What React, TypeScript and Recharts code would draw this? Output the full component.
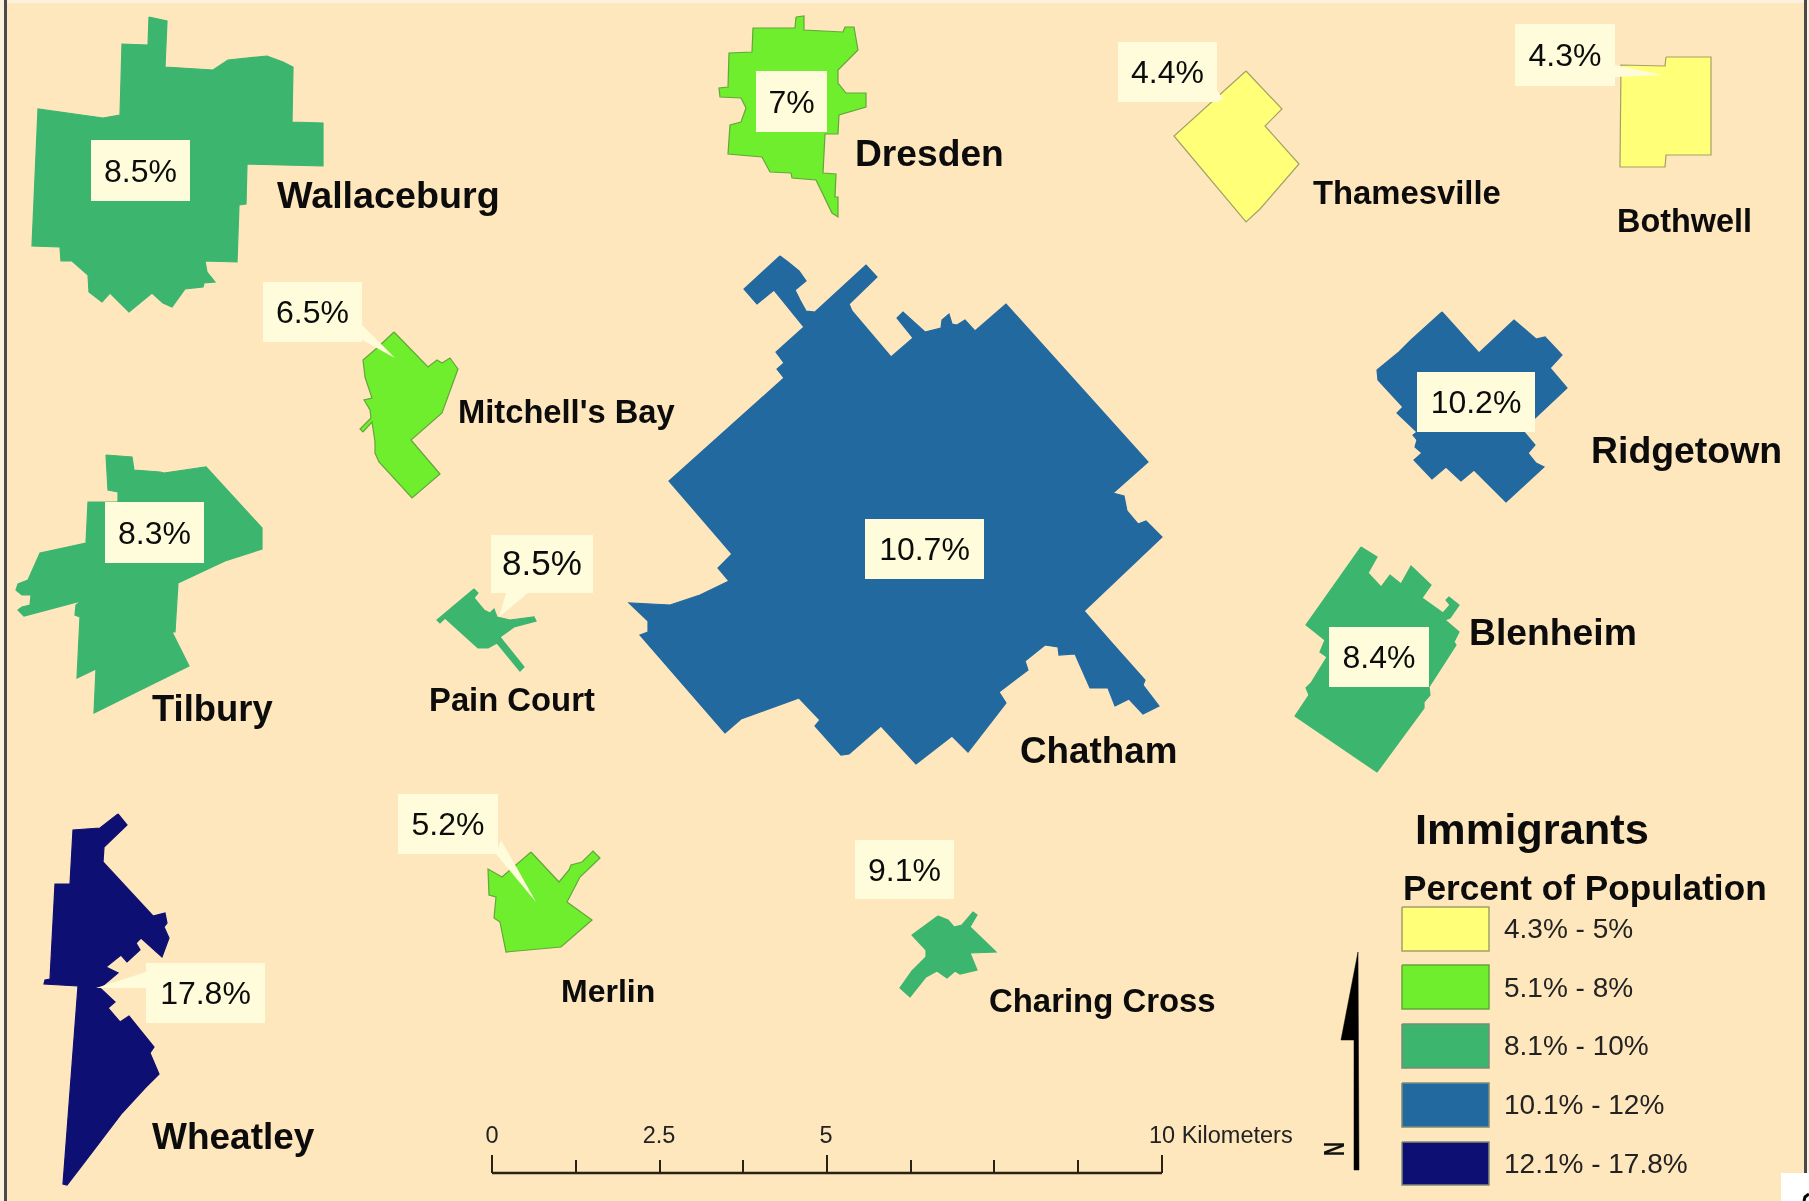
import { ScatterChart, Scatter, XAxis, YAxis } from "recharts";

type Pt = [number, number];

// town outlines, in map units
const wallaceburg: Pt[] = [[149,17],[167,21],[165,67],[213,70],[228,60],[267,56],[283,62],[293,67],[292,122],[323,123],[323,166],[247,164],[246,204],[239,205],[237,262],[205,261],[207,272],[215,282],[204,283],[203,287],[185,289],[172,307],[163,303],[152,293],[129,312],[110,293],[102,302],[89,292],[88,275],[72,261],[61,261],[60,247],[32,246],[38,109],[103,118],[120,115],[122,44],[148,45]];
const mitchellsBay: Pt[] = [[394,332],[428,367],[437,360],[442,363],[450,358],[458,369],[442,413],[411,440],[440,474],[412,498],[379,462],[375,453],[375,442],[372,422],[363,432],[360,429],[371,418],[370,410],[364,400],[372,398],[365,377],[363,360],[377,348]];
const tilbury: Pt[] = [[106,455],[132,457],[134,470],[160,472],[164,473],[206,467],[262,528],[262,549],[225,561],[178,583],[175,632],[172,632],[189,666],[94,713],[96,669],[77,678],[80,617],[75,615],[76,605],[81,601],[24,616],[18,610],[22,607],[30,605],[31,595],[22,595],[16,590],[18,584],[28,580],[40,553],[86,543],[88,502],[118,502],[118,492],[108,490]];
const painCourt: Pt[] = [[474,589],[478,593],[474,598],[484,610],[490,613],[494,609],[497,617],[510,620],[534,617],[536,621],[514,627],[500,637],[524,667],[520,671],[497,643],[488,648],[478,648],[445,618],[440,623],[437,620]];
const wheatley: Pt[] = [[118,814],[127,825],[104,847],[103,862],[153,916],[165,913],[167,923],[164,927],[169,938],[162,957],[141,938],[136,943],[140,950],[127,962],[121,955],[106,967],[118,973],[100,988],[115,1002],[108,1008],[120,1022],[129,1016],[154,1047],[150,1053],[159,1074],[145,1088],[122,1113],[84,1163],[67,1185],[63,1184],[78,986],[44,984],[45,980],[50,979],[55,884],[70,884],[73,830],[100,828]];
const merlin: Pt[] = [[531,852],[559,882],[569,870],[571,865],[582,862],[593,851],[600,858],[580,877],[567,902],[592,920],[561,947],[506,952],[500,922],[494,918],[496,897],[489,895],[488,869],[502,877]];
const charingCross: Pt[] = [[938,916],[948,920],[954,927],[962,925],[973,912],[977,915],[970,927],[996,952],[970,953],[977,970],[960,974],[955,971],[947,978],[937,971],[926,977],[910,997],[900,988],[912,971],[926,957],[926,950],[912,935]];
const chatham: Pt[] = [[780,256],[788,262],[799,271],[806,281],[795,290],[800,300],[806,311],[815,312],[866,265],[877,277],[849,304],[852,311],[891,357],[913,338],[897,318],[903,312],[925,332],[941,328],[942,320],[949,314],[952,324],[957,325],[965,320],[975,331],[1006,304],[1148,462],[1113,493],[1124,496],[1127,511],[1138,524],[1146,521],[1162,537],[1084,611],[1111,642],[1145,680],[1143,685],[1159,706],[1143,714],[1129,699],[1115,706],[1108,688],[1090,688],[1075,654],[1059,655],[1058,647],[1045,645],[1025,661],[1028,670],[999,692],[1006,703],[968,752],[952,736],[916,764],[881,726],[849,754],[841,755],[815,726],[820,720],[799,698],[741,719],[725,733],[640,635],[648,632],[648,621],[629,603],[670,605],[700,595],[729,581],[718,568],[732,554],[669,481],[784,378],[777,369],[784,363],[776,352],[804,327],[774,290],[757,304],[744,289]];
const dresden: Pt[] = [[796,17],[804,16],[804,30],[843,32],[845,27],[854,27],[858,50],[838,70],[838,83],[846,93],[866,93],[866,107],[839,115],[838,134],[825,134],[823,173],[836,174],[835,197],[838,197],[838,217],[832,213],[816,180],[792,178],[791,173],[770,172],[762,157],[728,154],[730,125],[741,122],[746,108],[741,98],[720,97],[719,88],[728,87],[729,53],[752,52],[753,28],[795,28]];
const thamesville: Pt[] = [[1246,71],[1282,109],[1265,126],[1299,164],[1260,209],[1246,222],[1174,136]];
const bothwell: Pt[] = [[1666,57],[1711,57],[1711,155],[1666,155],[1665,167],[1620,167],[1621,65],[1665,66]];
const ridgetown: Pt[] = [[1442,312],[1479,353],[1514,320],[1536,339],[1545,337],[1562,355],[1550,368],[1567,388],[1535,418],[1524,432],[1535,445],[1528,453],[1536,463],[1544,467],[1506,502],[1474,470],[1461,481],[1446,467],[1432,479],[1414,460],[1422,453],[1415,447],[1417,440],[1413,435],[1417,432],[1397,413],[1403,407],[1378,380],[1377,370],[1399,352],[1411,340]];
const blenheim: Pt[] = [[1361,547],[1377,557],[1368,573],[1381,587],[1390,575],[1401,584],[1411,566],[1431,585],[1422,598],[1443,613],[1450,605],[1446,600],[1449,597],[1459,605],[1450,618],[1445,620],[1459,632],[1454,642],[1456,645],[1429,687],[1430,695],[1424,702],[1424,708],[1377,772],[1295,716],[1309,695],[1306,688],[1311,683],[1327,657],[1320,652],[1325,640],[1306,625]];

const townOutlines = [wallaceburg, mitchellsBay, tilbury, painCourt, wheatley, merlin, charingCross, chatham, dresden, thamesville, bothwell, ridgetown, blenheim];
const townClass = [2, 1, 2, 2, 4, 1, 2, 3, 1, 0, 0, 3, 2];

// name labels
const townNames = ["Wallaceburg", "Mitchell's Bay", "Tilbury", "Pain Court", "Wheatley", "Merlin", "Charing Cross", "Chatham", "Dresden", "Thamesville", "Bothwell", "Ridgetown", "Blenheim"];
const townNameAt: Pt[] = [[277,208],[458,423],[152,721],[429,711],[152,1149],[561,1002],[989,1012],[1020,763],[855,166],[1313,204],[1617,232],[1591,463],[1469,645]];
const townNameSize = [37.7, 32.7, 36.4, 32.8, 37, 32, 32.9, 36.8, 37.2, 32.8, 32.4, 37.4, 37.3];

// percent callouts: box = [left, top, right, bottom]
const percents = ["8.5%", "6.5%", "8.3%", "8.5%", "17.8%", "5.2%", "9.1%", "10.7%", "7%", "4.4%", "4.3%", "10.2%", "8.4%"];
const percentBoxes = [[91,140,190,201],[263,282,362,342],[105,502,204,563],[491,535,593,593],[146,963,265,1023],[398,794,498,854],[855,840,954,899],[865,519,984,579],[756,71,827,132],[1118,42,1217,102],[1515,24,1615,86],[1417,372,1535,432],[1329,627,1429,687]];
const percentSize = [32, 32, 32, 35, 32, 32, 32, 32, 32, 32, 32, 32, 32];
const leaders: Pt[][] = [
  [[362,325],[395,358],[362,340]],
  [[506,593],[528,593],[499,617]],
  [[496,854],[501,840],[536,902]],
  [[146,972],[146,988],[96,988]],
  [[1615,65],[1615,77],[1663,75]],
  [[1217,90],[1217,102],[1223,99]],
];

// legend
const legendTitle = "Immigrants";
const legendSubtitle = "Percent of Population";
const classLabels = ["4.3% - 5%", "5.1% - 8%", "8.1% - 10%", "10.1% - 12%", "12.1% - 17.8%"];
const classColors = ["#FFFF78", "#6FEE2E", "#3CB56E", "#22699F", "#0E0F72"];
const classOutline = ["#A3A166", "#63A63A", "#3CB56E", "#22699F", "#0E0F72"];
const swatchBoxes = [[1402,907,1489,951],[1402,965,1489,1009],[1402,1024,1489,1068],[1402,1083,1489,1127],[1402,1142,1489,1185]];
const classLabelAt: Pt[] = [[1504,938],[1504,997],[1504,1055],[1504,1114],[1504,1173]];

// scale bar and north arrow
const scaleLine: Pt[] = [[492,1173],[1162,1173]];
const scaleTicks = [492, 576, 660, 743, 827, 911, 994, 1078, 1162];
const scaleTickTops = [1155, 1160, 1160, 1160, 1155, 1160, 1160, 1160, 1155];
const scaleLabels = ["0", "2.5", "5"];
const scaleLabelAt: Pt[] = [[492,1143],[659,1143],[826,1143]];
const northArrow: Pt[] = [[1358,952],[1359,1170],[1354,1170],[1354,1040],[1341,1040]];

const frameLeft: Pt[] = [[5.5,0],[5.5,1201]];
const frameRight: Pt[] = [[1805.5,0],[1805.5,1201]];
const pageNumberPatch = [1781, 1173, 1809, 1201];
const pageNumberStub: Pt[] = [[1804,1201],[1805,1197],[1809,1194]];

const BG = "#FEE6BD";
const BOX = "#FEFCDB";
const FONT = "'Liberation Sans', Arial, sans-serif";

const toRows = (pts: Pt[]) => [...pts, pts[0]].map(([x, y]) => ({ x, y }));
const boxToPts = ([l, t, r, b]: number[]): Pt[] => [[l, t], [r, t], [r, b], [l, b]];

const noDot = () => null;

// closed filled outline drawn through the chart's scales
function poly(key: string, pts: Pt[], fill: string, stroke = fill, strokeWidth = 1) {
  return (
    <Scatter
      key={key}
      data={toRows(pts)}
      shape={noDot}
      line={{ fill, stroke, strokeWidth }}
      isAnimationActive={false}
    />
  );
}

function stroke(key: string, pts: Pt[], color: string, width: number) {
  return (
    <Scatter
      key={key}
      data={pts.map(([x, y]) => ({ x, y }))}
      shape={noDot}
      line={{ fill: "none", stroke: color, strokeWidth: width }}
      isAnimationActive={false}
    />
  );
}

type Label = { x: number; y: number; text: string; size: number; weight?: string; anchor?: string; fillColor?: string };

const labelShape = (props: any) => {
  const { cx, cy, payload } = props;
  return (
    <text
      x={cx}
      y={cy}
      fontFamily={FONT}
      fontSize={payload.size}
      fontWeight={payload.weight ?? "normal"}
      textAnchor={payload.anchor ?? "start"}
      fill={payload.fillColor ?? "#0c0c0c"}
    >
      {payload.text}
    </text>
  );
};

const northShape = (props: any) => {
  const { cx, cy } = props;
  return (
    <text
      transform={`translate(${cx} ${cy}) rotate(-90) scale(0.67 1)`}
      textAnchor="middle"
      fontFamily={FONT}
      fontSize={29}
      fontWeight="bold"
      fill="#111"
    >
      N
    </text>
  );
};

const labels: Label[] = [
  ...townNames.map((text, i) => ({ x: townNameAt[i][0], y: townNameAt[i][1], text, size: townNameSize[i], weight: "bold" })),
  ...percents.map((text, i) => ({
    x: (percentBoxes[i][0] + percentBoxes[i][2]) / 2,
    y: (percentBoxes[i][1] + percentBoxes[i][3]) / 2 + 11,
    text,
    size: percentSize[i],
    anchor: "middle",
  })),
  ...classLabels.map((text, i) => ({ x: classLabelAt[i][0], y: classLabelAt[i][1], text, size: 28, fillColor: "#222" })),
  { x: 1415, y: 844, text: legendTitle, size: 43.4, weight: "bold" },
  { x: 1403, y: 900, text: legendSubtitle, size: 35.2, weight: "bold" },
  ...scaleLabels.map((text, i) => ({ x: scaleLabelAt[i][0], y: scaleLabelAt[i][1], text, size: 23.5, anchor: "middle", fillColor: "#222" })),
  { x: 1149, y: 1143, text: "10 Kilometers", size: 23.5, fillColor: "#222" },
];

export default function App() {
  return (
    <div style={{ position: "absolute", left: 0, top: 0, width: 1809, height: 1201, background: "#FBF1DC", overflow: "hidden" }}>
      <div style={{ filter: "blur(0.5px)" }}>
        <ScatterChart width={1809} height={1201} margin={{ top: 0, right: 0, bottom: 0, left: 0 }}>
          <XAxis type="number" dataKey="x" domain={[0, 1809]} allowDataOverflow hide />
          <YAxis type="number" dataKey="y" domain={[0, 1201]} allowDataOverflow reversed hide />

          {/* Background and frame */}
          {poly("bg", boxToPts([7, 3, 1804, 1201]), BG, BG, 0)}
          {stroke("frame-l", frameLeft, "#4a4a4a", 3)}
          {stroke("frame-r", frameRight, "#4a4a4a", 3)}

          {/* Towns */}
          {townOutlines.map((pts, i) =>
            poly(`town-${i}`, pts, classColors[townClass[i]], classOutline[townClass[i]], 1.2)
          )}

          {/* Callouts */}
          {leaders.map((pts, i) => poly(`lead-${i}`, pts, BOX, BOX, 0))}
          {percentBoxes.map((b, i) => poly(`box-${i}`, boxToPts(b), BOX, BOX, 0))}

          {/* Legend */}
          {swatchBoxes.map((b, i) => poly(`swatch-${i}`, boxToPts(b), classColors[i], i < 2 ? classOutline[i] : "#7d8a78", 1.5))}

          {/* Scale bar */}
          {stroke("scale", scaleLine, "#2a2214", 2.5)}
          {scaleTicks.map((x, i) =>
            stroke(`tick-${i}`, [[x, scaleTickTops[i]], [x, 1173]], "#2a2214", 2)
          )}

          {/* North arrow */}
          {poly("north", northArrow, "#000", "#000", 0.5)}
          <Scatter data={[{ x: 1344, y: 1149 }]} shape={northShape} isAnimationActive={false} />

          {poly("patch", boxToPts(pageNumberPatch), "#FFFFFF", "#FFFFFF", 0)}
          {stroke("stub", pageNumberStub, "#000", 3)}

          {/* Text */}
          <Scatter data={labels} shape={labelShape} isAnimationActive={false} />
        </ScatterChart>
      </div>
    </div>
  );
}
